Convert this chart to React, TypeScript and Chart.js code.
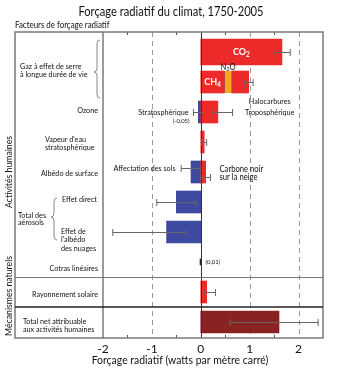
import React, { useEffect, useRef } from 'react';
import { Chart, registerables } from 'chart.js';

Chart.register(...registerables);

const FONT = "'Lato', sans-serif";

const categories = [
  'CO2',
  'CH4 + N2O + Halocarbures',
  'Ozone',
  "Vapeur d'eau stratosphérique",
  'Albédo de surface',
  'Effet direct',
  "Effet de l'albédo des nuages",
  'Cotras linéaires',
  'Rayonnement solaire',
  'Total net attribuable aux activités humaines',
];

const co2Values = [1.66, null, null, null, null, null, null, null, null, null];
const redValues = [null, 0.48, 0.35, 0.07, 0.1, null, null, null, 0.12, null];
const n2oValues = [null, 0.16, null, null, null, null, null, null, null, null];
const halocarbonValues = [null, 0.34, null, null, null, null, null, null, null, null];
const blueValues = [null, null, -0.05, null, -0.2, -0.5, -0.7, null, null, null];
const contrailValues = [null, null, null, null, null, null, null, 0.01, null, null];
const totalValues = [null, null, null, null, null, null, null, null, null, 1.6];

const errorRows = [0, 1, 2, 2, 3, 4, 4, 5, 6, 8, 9];
const errorLow = [1.49, 0.89, -0.15, 0.25, 0.02, -0.4, 0.0, -0.9, -1.8, 0.06, 0.6];
const errorHigh = [1.83, 1.07, 0.05, 0.65, 0.12, 0.0, 0.2, -0.1, -0.3, 0.3, 2.4];

const xTicks = [-2, -1, 0, 1, 2];
const dashedGrid = [-1, 1, 2];
const minorTicks = [-1.5, -0.5, 0.5, 1.5];

const RED = '#ED2A2A';
const BLUE = '#3E4A9F';
const ORANGE = '#F6A623';
const DARKRED = '#8B2222';

const floating = (vals: (number | null)[], starts?: (number | null)[]) =>
  vals.map((v, i) => (v == null ? null : [starts ? (starts[i] as number) : 0, (starts ? (starts[i] as number) : 0) + v]));

const n2oStarts = redValues.map((v) => v);
const haloStarts = redValues.map((v, i) => (v == null ? null : v + (n2oValues[i] ?? 0)));

function txt(ctx: CanvasRenderingContext2D, s: string, x: number, y: number, align: CanvasTextAlign = 'left', size = 8, weight = 'normal', color = '#111', cond = 0.9) {
  ctx.save();
  ctx.translate(x, y);
  ctx.scale(cond, 1);
  ctx.font = `${weight} ${size}px ${FONT}`;
  ctx.textAlign = align;
  ctx.textBaseline = 'middle';
  ctx.fillStyle = color;
  ctx.fillText(s, 0, 0);
  ctx.restore();
}

function subText(ctx: CanvasRenderingContext2D, parts: [string, boolean][], cx: number, y: number, size: number, weight: string, color: string, cond = 0.9) {
  ctx.save();
  ctx.translate(cx, y);
  ctx.scale(cond, 1);
  ctx.textBaseline = 'middle';
  let total = 0;
  const widths = parts.map(([s, sub]) => {
    ctx.font = `${weight} ${sub ? size * 0.7 : size}px ${FONT}`;
    const w = ctx.measureText(s).width;
    total += w;
    return w;
  });
  let x = -total / 2;
  parts.forEach(([s, sub], i) => {
    ctx.font = `${weight} ${sub ? size * 0.7 : size}px ${FONT}`;
    ctx.textAlign = 'left';
    ctx.fillStyle = color;
    ctx.fillText(s, x, sub ? size * 0.3 : 0);
    x += widths[i];
  });
  ctx.restore();
}

function brace(ctx: CanvasRenderingContext2D, x: number, y0: number, y1: number, ym: number) {
  ctx.save();
  ctx.strokeStyle = '#888';
  ctx.lineWidth = 1;
  ctx.beginPath();
  ctx.moveTo(x + 3, y0);
  ctx.quadraticCurveTo(x, y0, x, y0 + 4);
  ctx.lineTo(x, ym - 4);
  ctx.quadraticCurveTo(x, ym, x - 3, ym);
  ctx.quadraticCurveTo(x, ym, x, ym + 4);
  ctx.lineTo(x, y1 - 4);
  ctx.quadraticCurveTo(x, y1, x + 3, y1);
  ctx.stroke();
  ctx.restore();
}

const decor = {
  id: 'decor',
  beforeDatasetsDraw(chart: any) {
    const { ctx, chartArea, scales } = chart;
    const { top, bottom } = chartArea;
    const x = scales.x;
    const fTop = top - 5;
    const fBot = bottom + 1;
    ctx.save();
    ctx.strokeStyle = '#9a9a9a';
    ctx.lineWidth = 1;
    ctx.setLineDash([5, 4]);
    dashedGrid.forEach((v) => {
      const px = Math.round(x.getPixelForValue(v)) + 0.5;
      ctx.beginPath();
      ctx.moveTo(px, fTop);
      ctx.lineTo(px, fBot);
      ctx.stroke();
    });
    ctx.setLineDash([]);
    ctx.strokeStyle = '#555';
    minorTicks.forEach((v) => {
      const px = Math.round(x.getPixelForValue(v)) + 0.5;
      ctx.beginPath();
      ctx.moveTo(px, fTop);
      ctx.lineTo(px, fTop + 3);
      ctx.moveTo(px, fBot);
      ctx.lineTo(px, fBot - 3);
      ctx.stroke();
    });
    ctx.restore();
  },
  afterDatasetsDraw(chart: any) {
    const { ctx, chartArea, scales } = chart;
    const { left, right, top, bottom } = chartArea;
    const x = scales.x;
    const y = scales.y;
    const yc = (i: number) => y.getPixelForValue(i);
    const fTop = top - 5;
    const fBot = bottom + 1;
    const fLeft = 15;
    ctx.save();

    const x0 = Math.round(x.getPixelForValue(0)) + 0.5;
    ctx.strokeStyle = '#333';
    ctx.lineWidth = 1;
    ctx.beginPath();
    ctx.moveTo(x0, fTop);
    ctx.lineTo(x0, fBot);
    ctx.stroke();

    ctx.strokeStyle = '#666';
    ctx.lineWidth = 1;
    errorRows.forEach((r, k) => {
      let py = Math.round(yc(r)) + 0.5;
      if (r === 4) py += errorLow[k] < 0 ? -4 : 5;
      const a = x.getPixelForValue(errorLow[k]);
      const b = x.getPixelForValue(errorHigh[k]);
      ctx.beginPath();
      ctx.moveTo(a, py);
      ctx.lineTo(b, py);
      ctx.moveTo(a, py - 3.5);
      ctx.lineTo(a, py + 3.5);
      ctx.moveTo(b, py - 3.5);
      ctx.lineTo(b, py + 3.5);
      ctx.stroke();
    });

    ctx.strokeStyle = '#7a7a7a';
    ctx.lineWidth = 1.5;
    ctx.strokeRect(fLeft, fTop, right - fLeft, fBot - fTop);
    ctx.beginPath();
    ctx.moveTo(left, fTop);
    ctx.lineTo(left, fBot);
    ctx.stroke();

    const s1 = Math.round((yc(7) + yc(8)) / 2) + 0.5;
    const s2 = Math.round((yc(8) + yc(9)) / 2);
    ctx.strokeStyle = '#777';
    ctx.lineWidth = 1;
    ctx.beginPath();
    ctx.moveTo(fLeft, s1);
    ctx.lineTo(right, s1);
    ctx.stroke();
    ctx.strokeStyle = '#222';
    ctx.lineWidth = 1.5;
    ctx.beginPath();
    ctx.moveTo(fLeft, s2);
    ctx.lineTo(right, s2);
    ctx.stroke();

    txt(ctx, 'Forçage radiatif du climat, 1750-2005', 171, 12, 'center', 13, 'normal', '#111', 0.86);
    txt(ctx, 'Facteurs de forçage radiatif', 15, 25, 'left', 9, 'normal', '#111', 0.88);
    txt(ctx, 'Forçage radiatif (watts par mètre carré)', 180, 360, 'center', 12, 'normal', '#111', 0.87);

    ctx.save();
    ctx.translate(9, yc(4));
    ctx.rotate(-Math.PI / 2);
    txt(ctx, 'Activités humaines', 0, 0, 'center', 10, 'normal', '#111', 0.87);
    ctx.restore();
    ctx.save();
    ctx.translate(9, yc(8) + 4);
    ctx.rotate(-Math.PI / 2);
    txt(ctx, 'Mécanismes naturels', 0, 0, 'center', 10, 'normal', '#111', 0.87);
    ctx.restore();

    const mid01 = (yc(0) + yc(1)) / 2;
    txt(ctx, 'Gaz à effet de serre', 20, mid01 - 1);
    txt(ctx, 'à longue durée de vie', 20, mid01 + 7);
    brace(ctx, 97, fTop + 8, yc(1) + 16, mid01 + 5);
    txt(ctx, 'Ozone', 98, yc(2) - 2, 'right');
    txt(ctx, "Vapeur d'eau", 45, yc(3) - 3);
    txt(ctx, 'stratosphérique', 45, yc(3) + 5);
    txt(ctx, 'Albédo de surface', 98, yc(4) + 1, 'right');
    txt(ctx, 'Effet direct', 62, yc(5) - 3);
    const mid56 = (yc(5) + yc(6)) / 2;
    txt(ctx, 'Total des', 18, mid56 - 2);
    txt(ctx, 'aérosols', 18, mid56 + 5);
    brace(ctx, 54, yc(5) - 4, yc(6) + 8, mid56);
    txt(ctx, 'Effet de', 61, yc(6) - 1);
    txt(ctx, "l'albédo", 61, yc(6) + 7);
    txt(ctx, 'des nuages', 61, yc(6) + 16);
    txt(ctx, 'Cotras linéaires', 98, yc(7) + 6, 'right');
    txt(ctx, 'Rayonnement solaire', 98, yc(8) + 2, 'right');
    txt(ctx, 'Total net attribuable', 23, yc(9) - 1);
    txt(ctx, 'aux activités humaines', 23, yc(9) + 7);

    subText(ctx, [['CO', false], ['2', true]], x.getPixelForValue((co2Values[0] as number) / 2), yc(0), 10, 'bold', '#fff');
    subText(ctx, [['CH', false], ['4', true]], x.getPixelForValue((redValues[1] as number) / 2), yc(1), 10, 'bold', '#fff');
    subText(ctx, [['N', false], ['2', true], ['O', false]], x.getPixelForValue((redValues[1] as number) + (n2oValues[1] as number) / 2), yc(1) - 15, 8.5, 'normal', '#111');
    txt(ctx, 'Halocarbures', x.getPixelForValue(1.41), yc(2) - 11, 'center', 8);
    txt(ctx, 'Troposphérique', x.getPixelForValue(1.41), yc(2), 'center', 8);
    txt(ctx, 'Stratosphérique', x0 - 13, yc(2), 'right', 8);
    txt(ctx, '(-0.05)', x0 - 12, yc(2) + 9, 'right', 6.5);
    txt(ctx, 'Affectation des sols', x0 - 26, yc(4) - 4, 'right', 8);
    txt(ctx, 'Carbone noir', x0 + 18, yc(4) - 3, 'left', 8.5);
    txt(ctx, 'sur la neige', x0 + 18, yc(4) + 5, 'left', 8.5);
    txt(ctx, '(0,01)', x0 + 4, yc(7), 'left', 6.5);

    ctx.restore();
  },
};

export default function App() {
  const ref = useRef<HTMLCanvasElement>(null);
  useEffect(() => {
    const base = { grouped: false, borderWidth: 0, barThickness: 22 };
    const chart = new Chart(ref.current as HTMLCanvasElement, {
      type: 'bar',
      data: {
        labels: categories,
        datasets: [
          { ...base, data: floating(co2Values) as any, backgroundColor: RED, barThickness: 26 },
          { ...base, data: floating(redValues) as any, backgroundColor: RED },
          { ...base, data: floating(n2oValues, n2oStarts) as any, backgroundColor: ORANGE, borderWidth: { left: 1, right: 1, top: 0, bottom: 0 } as any, borderColor: '#666', borderSkipped: false },
          { ...base, data: floating(halocarbonValues, haloStarts) as any, backgroundColor: RED },
          { ...base, data: floating(blueValues) as any, backgroundColor: BLUE },
          { ...base, data: floating(contrailValues) as any, backgroundColor: '#222', barThickness: 6, minBarLength: 1.5 },
          { ...base, data: floating(totalValues) as any, backgroundColor: DARKRED },
        ] as any,
      },
      options: {
        indexAxis: 'y',
        animation: false,
        responsive: false,
        devicePixelRatio: 1,
        layout: { padding: { top: 37, left: 103, right: 24, bottom: 0 } },
        plugins: { legend: { display: false }, tooltip: { enabled: false }, title: { display: false } },
        scales: {
          x: {
            type: 'linear',
            min: -2,
            max: 2.5,
            position: 'bottom',
            grid: { display: false, drawTicks: false },
            border: { display: false },
            ticks: { font: { size: 12, family: FONT }, color: '#111', padding: 5, maxRotation: 0, autoSkip: false },
            afterBuildTicks: (s: any) => {
              s.ticks = xTicks.map((v) => ({ value: v }));
            },
            afterFit: (s: any) => {
              s.height = 40;
            },
          },
          y: { type: 'category', display: false, offset: true },
        },
      } as any,
      plugins: [decor],
    });
    return () => chart.destroy();
  }, []);
  return (
    <div style={{ position: 'fixed', left: 0, top: 0, width: 347, height: 377, background: '#fff' }}>
      <canvas ref={ref} width={347} height={377} style={{ width: 347, height: 377, display: 'block' }} />
    </div>
  );
}
